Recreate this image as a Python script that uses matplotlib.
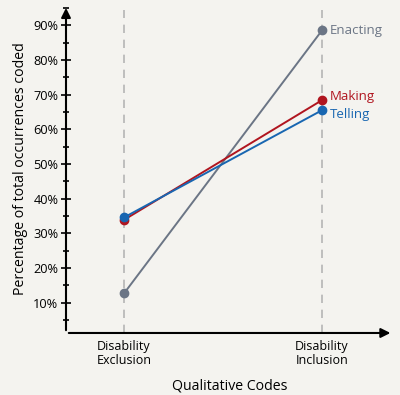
import matplotlib.pyplot as plt
from matplotlib.ticker import MultipleLocator, FuncFormatter

plt.rcParams['font.family'] = ['Open Sans', 'DejaVu Sans']

# Данные
codes = ['Disability\nExclusion', 'Disability\nInclusion']
enacting = [12.7, 88.5]
making = [33.9, 68.4]
telling = [34.6, 65.5]

series = [
    ('Enacting', enacting, '#6b7585', 0.0),
    ('Making', making, '#b0151f', 1.0),
    ('Telling', telling, '#1866b1', -1.3),
]

bg = '#f4f3ef'
fig = plt.figure(figsize=(4, 3.95), dpi=100, facecolor=bg)
ax = fig.add_axes([0.165, 0.157, 0.818, 0.83], facecolor=bg)

x = list(range(len(codes)))
ax.set_xlim(-0.293, 1.36)
ax.set_ylim(1.3, 95.8)

# Пунктирные вертикали
for xi in x:
    ax.plot([xi, xi], [1.3, 94.5], color='#b5b5b5', lw=1.2, ls=(0, (5, 4)), zorder=1)

for name, vals, col, dy in series:
    ax.plot(x, vals, color=col, lw=1.4, marker='o', ms=6, zorder=3)
    ax.text(1.04, vals[1] + dy, name, color=col, fontsize=9.5, va='center', ha='left')

# Оси со стрелками
for s in ['top', 'right', 'left', 'bottom']:
    ax.spines[s].set_visible(False)
ax.annotate('', xy=(0, 1.0), xytext=(0, 0), xycoords='axes fraction',
            arrowprops=dict(arrowstyle='-|>', color='black', lw=1.5, mutation_scale=14))
ax.annotate('', xy=(1.0, 0), xytext=(0, 0), xycoords='axes fraction',
            arrowprops=dict(arrowstyle='-|>', color='black', lw=1.5, mutation_scale=14))

ax.yaxis.set_major_locator(MultipleLocator(10))
ax.yaxis.set_minor_locator(MultipleLocator(5))
ax.yaxis.set_major_formatter(FuncFormatter(lambda v, p: f'{int(v)}%' if 10 <= v <= 90 else ''))
ax.tick_params(axis='y', which='major', direction='inout', length=7, width=1.2, labelsize=9.2, pad=2)
ax.tick_params(axis='y', which='minor', direction='inout', length=4, width=1.2)

ax.set_xticks(x)
ax.set_xticklabels(codes, fontsize=9, linespacing=1.15)
ax.tick_params(axis='x', length=0, pad=5)

ax.set_ylabel('Percentage of total occurrences coded', fontsize=10.2, labelpad=4)
ax.set_xlabel('Qualitative Codes', fontsize=10.2, labelpad=8)

fig.savefig('out.png', dpi=100, facecolor=bg)
